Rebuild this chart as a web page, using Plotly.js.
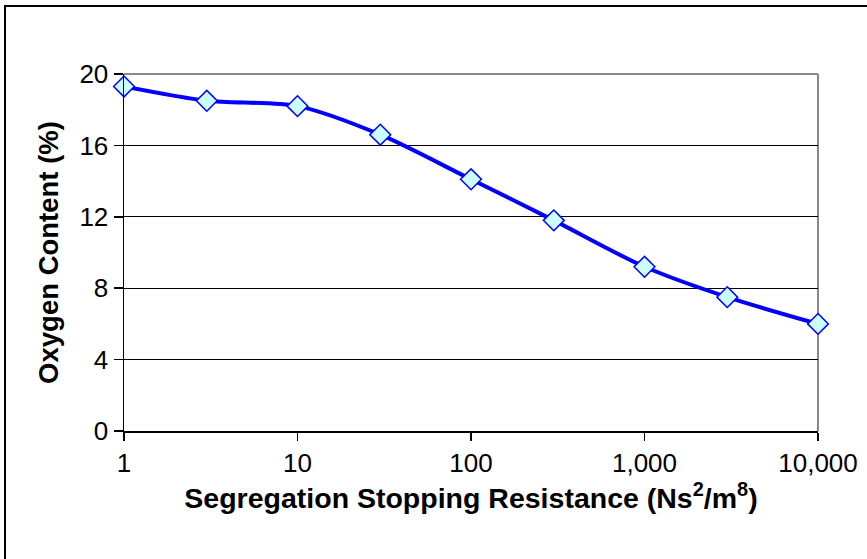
<!DOCTYPE html>
<html>
<head>
<meta charset="utf-8">
<script src="https://cdn.plot.ly/plotly-3.0.1.min.js"></script>
<style>
  html, body { margin: 0; padding: 0; background: #fff; overflow: hidden; }
  #chart { position: absolute; left: 0; top: 0; width: 867px; height: 559px; }
  #frame { position: absolute; left: 4px; top: 5px; width: 900px; height: 600px;
           border: 2px solid #000; pointer-events: none; }
</style>
</head>
<body>
<div id="chart"></div>
<div id="frame"></div>
<script>
const resistance = [1, 3, 10, 30, 100, 300, 1000, 3000, 10000];
const oxygen = [19.3, 18.5, 18.2, 16.6, 14.1, 11.8, 9.2, 7.5, 6.0];
const xTickVals = [1, 10, 100, 1000, 10000];
const xTickText = ['1', '10', '100', '1,000', '10,000'];
const yTickVals = [0, 4, 8, 12, 16, 20];

const trace = {
  x: resistance,
  y: oxygen,
  type: 'scatter',
  mode: 'lines+markers',
  line: { color: '#0000FF', width: 4, shape: 'spline', smoothing: 0.8 },
  marker: { symbol: 'diamond', size: 16, color: '#CCFFFF',
            line: { color: '#0000FF', width: 1.5 } },
  cliponaxis: false,
  hoverinfo: 'x+y'
};

const layout = {
  width: 867, height: 559,
  margin: { l: 124, r: 49, t: 74, b: 128 },
  paper_bgcolor: '#ffffff',
  plot_bgcolor: '#ffffff',
  showlegend: false,
  font: { family: 'Liberation Sans, Arial, sans-serif', color: '#000' },
  xaxis: {
    type: 'log',
    range: [0, 4],
    tickvals: xTickVals,
    ticktext: xTickText,
    ticks: 'outside', ticklen: 8, tickcolor: '#000', tickwidth: 1.5,
    showgrid: false,
    showline: true, linecolor: '#000', linewidth: 1.5,
    zeroline: false,
    tickfont: { size: 26, family: 'Liberation Sans, Arial, sans-serif' },
    title: { text: '<b>Segregation Stopping Resistance (Ns<sup>2</sup>/m<sup>8</sup>)</b>',
             font: { size: 28.5, family: 'Liberation Sans, Arial, sans-serif' },
             standoff: 5 },
    automargin: false
  },
  yaxis: {
    range: [0, 20],
    tickvals: yTickVals,
    ticks: 'outside', ticklen: 9, tickcolor: '#000', tickwidth: 1.5,
    showgrid: true, gridcolor: '#000', gridwidth: 1.2,
    showline: true, linecolor: '#000', linewidth: 1.5,
    zeroline: false,
    tickfont: { size: 26, family: 'Liberation Sans, Arial, sans-serif' },
    title: { text: '<b>Oxygen Content (%)</b>',
             font: { size: 27.5, family: 'Liberation Sans, Arial, sans-serif' },
             standoff: 13 },
    automargin: false
  },
  shapes: [
    { type: 'line', xref: 'paper', yref: 'paper', x0: 0, x1: 1, y0: 1, y1: 1,
      line: { color: '#888', width: 2 }, layer: 'above' },
    { type: 'line', xref: 'paper', yref: 'paper', x0: 1, x1: 1, y0: 0, y1: 1,
      line: { color: '#888', width: 2 }, layer: 'below' }
  ]
};

Plotly.newPlot('chart', [trace], layout, { displayModeBar: false, staticPlot: true });
</script>
</body>
</html>
